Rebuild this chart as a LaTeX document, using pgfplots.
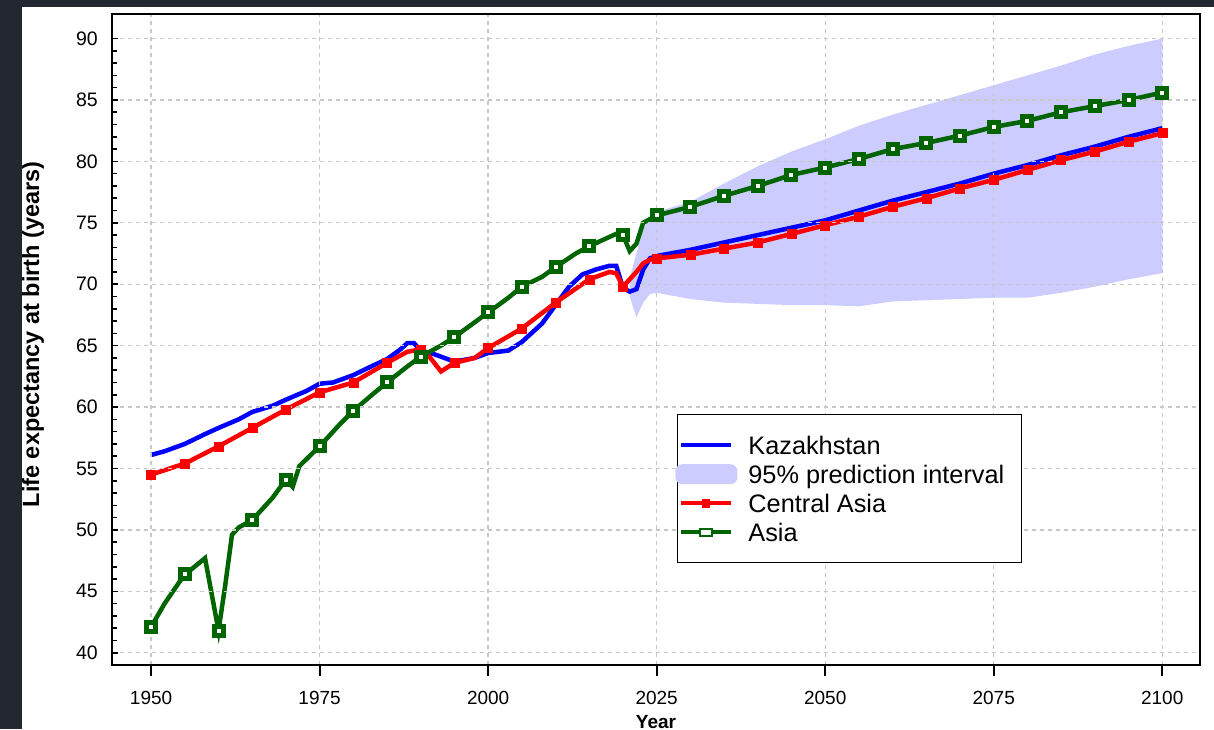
\documentclass[border=0pt]{standalone}
\usepackage{fontspec}
\setmainfont{Liberation Sans}
\usepackage{pgfplots}
\pgfplotsset{compat=1.18}

\definecolor{kaz}{RGB}{0,0,255}
\definecolor{cas}{RGB}{255,0,0}
\definecolor{asia}{RGB}{0,100,0}
\definecolor{bandc}{RGB}{204,204,255}
\definecolor{bgdark}{RGB}{35,39,50}
\definecolor{gridc}{RGB}{200,200,200}

\begin{document}
\begin{tikzpicture}
\fill[bgdark] (0pt,0pt) rectangle (1214pt,729pt);
\fill[white] (22pt,0pt) rectangle (1214pt,722pt);
\begin{axis}[
    at={(112pt,64pt)}, anchor=south west,
    scale only axis, width=1088pt, height=651pt,
    axis on top,
    xmin=1944.2, xmax=2105.6,
    ymin=39.0, ymax=92.0,
    xtick={1950,1975,...,2100},
    ytick={40,45,...,90},
    minor y tick num=4,
    xtick pos=lower, ytick pos=left,
    xtick align=outside, ytick align=inside,
    xtick style={black, line width=2pt, /pgfplots/major tick length=11pt},
    ytick style={black, line width=1.6pt, /pgfplots/major tick length=6pt, /pgfplots/minor tick length=5pt},
    /pgf/number format/1000 sep=,
    /pgf/number format/assume math mode=true,
    xticklabel style={font=\fontsize{19}{19}\selectfont, inner sep=0pt, yshift=-22pt},
    yticklabel style={font=\fontsize{19.5}{19.5}\selectfont, inner sep=0pt, xshift=-14pt},
    axis line style={black, line width=2pt},
    grid=major,
    major grid style={gridc, line width=1.3pt, dash pattern=on 4pt off 4pt},
    xlabel={Year},
    ylabel={Life expectancy at birth (years)},
    xlabel style={font=\bfseries\fontsize{19}{19}\selectfont, at={(axis description cs:0.5,0)}, anchor=north, inner sep=0pt, yshift=-50pt},
    ylabel style={font=\bfseries\fontsize{23.5}{23.5}\selectfont, at={(axis description cs:-0.0726,0.508)}, anchor=center, inner sep=0pt},
    legend style={at={(rel axis cs:0.519,0.3856)}, anchor=north west,
        draw=black, line width=1.5pt, fill=white,
        inner xsep=2pt, inner ysep=18.5pt, row sep=5pt, column sep=15pt,
        font=\fontsize{25.3}{25.3}\selectfont,
        nodes={inner sep=0pt, text height=21pt, text depth=3pt, anchor=west}},
    legend cell align=left,
]
% 95% prediction interval: upper bound 2021-2100, then lower bound back
\addplot[fill=bandc, draw=none, forget plot] coordinates {
(2021,70.5) (2022,72.5) (2023,74.5) (2024,75.3) (2025,75.9) (2030,76.7) (2035,78.2)
(2040,79.6) (2045,80.8) (2050,81.8) (2055,82.9) (2060,83.8) (2065,84.6) (2070,85.4)
(2075,86.2) (2080,87.0) (2085,87.8) (2090,88.7) (2095,89.4) (2100,90.0)
(2100,70.9) (2095,70.4) (2090,69.8) (2085,69.3) (2080,68.9) (2075,68.9) (2070,68.8)
(2065,68.7) (2060,68.6) (2055,68.2) (2050,68.3) (2045,68.3) (2040,68.4) (2035,68.5)
(2030,68.8) (2025,69.3) (2024,69.2) (2023,68.5) (2022,67.3) (2021,69.0)} -- cycle;

% Kazakhstan
\addplot[kaz, line width=4.5pt, forget plot] coordinates {
(1950,56.1) (1952,56.4) (1955,57.0) (1958,57.8) (1960,58.3) (1963,59.0) (1965,59.6)
(1968,60.1) (1970,60.6) (1973,61.3) (1975,61.9) (1977,62.0) (1980,62.6) (1983,63.4)
(1985,63.9) (1987,64.7) (1988,65.2) (1989,65.2) (1990,64.6) (1992,64.3) (1995,63.7)
(1998,64.0) (2000,64.4) (2003,64.6) (2005,65.3) (2008,66.8) (2010,68.3) (2012,69.8)
(2014,70.8) (2016,71.2) (2018,71.5) (2019,71.5) (2020,69.7) (2021,69.4) (2022,69.6)
(2023,71.2) (2024,72.1) (2025,72.3) (2030,72.8) (2035,73.4) (2040,74.0) (2045,74.6)
(2050,75.2) (2055,76.0) (2060,76.8) (2065,77.5) (2070,78.2) (2075,79.0) (2080,79.7)
(2085,80.5) (2090,81.2) (2095,82.0) (2100,82.7)};

% Central Asia
\addplot[cas, line width=4.5pt, forget plot] coordinates {
(1950,54.5) (1955,55.4) (1960,56.8) (1965,58.3) (1970,59.8) (1975,61.2) (1980,62.0)
(1985,63.6) (1988,64.5) (1990,64.7) (1991,64.3) (1993,62.9) (1995,63.6) (1998,64.0)
(2000,64.8) (2005,66.4) (2010,68.5) (2015,70.4) (2018,71.0) (2019,70.9) (2020,69.8)
(2021,70.4) (2022,71.0) (2023,71.7) (2024,72.0) (2025,72.1) (2030,72.4) (2035,72.9)
(2040,73.4) (2045,74.1) (2050,74.8) (2055,75.5) (2060,76.3) (2065,77.0) (2070,77.8)
(2075,78.5) (2080,79.3) (2085,80.1) (2090,80.8) (2095,81.6) (2100,82.3)};
\addplot[only marks, mark=square*, mark size=4.5pt, mark options={cas, fill=cas}, forget plot] coordinates {
(1950,54.5) (1955,55.4) (1960,56.8) (1965,58.3) (1970,59.8) (1975,61.2) (1980,62.0)
(1985,63.6) (1990,64.7) (1995,63.6) (2000,64.8) (2005,66.4) (2010,68.5) (2015,70.4)
(2020,69.8) (2025,72.1) (2030,72.4) (2035,72.9) (2040,73.4) (2045,74.1) (2050,74.8)
(2055,75.5) (2060,76.3) (2065,77.0) (2070,77.8) (2075,78.5) (2080,79.3) (2085,80.1)
(2090,80.8) (2095,81.6) (2100,82.3)};

% Asia
\addplot[asia, line width=4.5pt, forget plot] coordinates {
(1950,42.1) (1952,44.0) (1954,45.6) (1955,46.4) (1956,46.8) (1958,47.7) (1960,41.8)
(1961,45.5) (1962,49.6) (1963,50.2) (1965,50.8) (1968,52.6) (1970,54.1) (1971,53.5)
(1972,55.2) (1975,56.8) (1978,58.6) (1980,59.7) (1983,61.1) (1985,62.0) (1988,63.3)
(1990,64.1) (1993,65.0) (1995,65.7) (1998,66.9) (2000,67.7) (2003,68.9) (2005,69.8)
(2008,70.6) (2010,71.4) (2013,72.5) (2015,73.1) (2017,73.6) (2019,74.1) (2020,74.0)
(2021,72.7) (2022,73.3) (2023,75.0) (2025,75.6) (2030,76.3) (2035,77.2) (2040,78.0)
(2045,78.9) (2050,79.5) (2055,80.2) (2060,81.0) (2065,81.5) (2070,82.1) (2075,82.8)
(2080,83.3) (2085,84.0) (2090,84.5) (2095,85.0) (2100,85.6)};
\addplot[only marks, mark=square*, mark size=4.5pt, mark options={asia, fill=white, line width=5pt}, forget plot] coordinates {
(1950,42.1) (1955,46.4) (1960,41.8) (1965,50.8) (1970,54.1) (1975,56.8) (1980,59.7)
(1985,62.0) (1990,64.1) (1995,65.7) (2000,67.7) (2005,69.8) (2010,71.4) (2015,73.1)
(2020,74.0) (2025,75.6) (2030,76.3) (2035,77.2) (2040,78.0) (2045,78.9) (2050,79.5)
(2055,80.2) (2060,81.0) (2065,81.5) (2070,82.1) (2075,82.8) (2080,83.3) (2085,84.0)
(2090,84.5) (2095,85.0) (2100,85.6)};

% legend
\addlegendimage{legend image code/.code={
    \draw[kaz, line width=4pt, fill=none] (0pt,0pt) -- (50pt,0pt);}}
\addlegendentry{Kazakhstan}
\addlegendimage{legend image code/.code={
    \path[draw=none, fill=none] (0pt,0pt) -- (50pt,0pt);
    \fill[bandc, draw=none, rounded corners=7pt, overlay] (-6pt,-10pt) rectangle (56pt,10pt);}}
\addlegendentry{95\% prediction interval\kern15pt}
\addlegendimage{legend image code/.code={
    \draw[cas, line width=4pt, fill=none] (0pt,0pt) -- (50pt,0pt);
    \fill[cas, draw=none] (21pt,-4.5pt) rectangle (29pt,4.5pt);}}
\addlegendentry{Central Asia}
\addlegendimage{legend image code/.code={
    \draw[asia, line width=4pt, fill=none] (0pt,0pt) -- (50pt,0pt);
    \draw[asia, line width=2pt, fill=white] (19pt,-3.5pt) rectangle (31pt,3.5pt);}}
\addlegendentry{Asia}
\end{axis}
\pgfresetboundingbox
\path[use as bounding box] (0pt,0pt) rectangle (1214pt,729pt);
\end{tikzpicture}
\end{document}
